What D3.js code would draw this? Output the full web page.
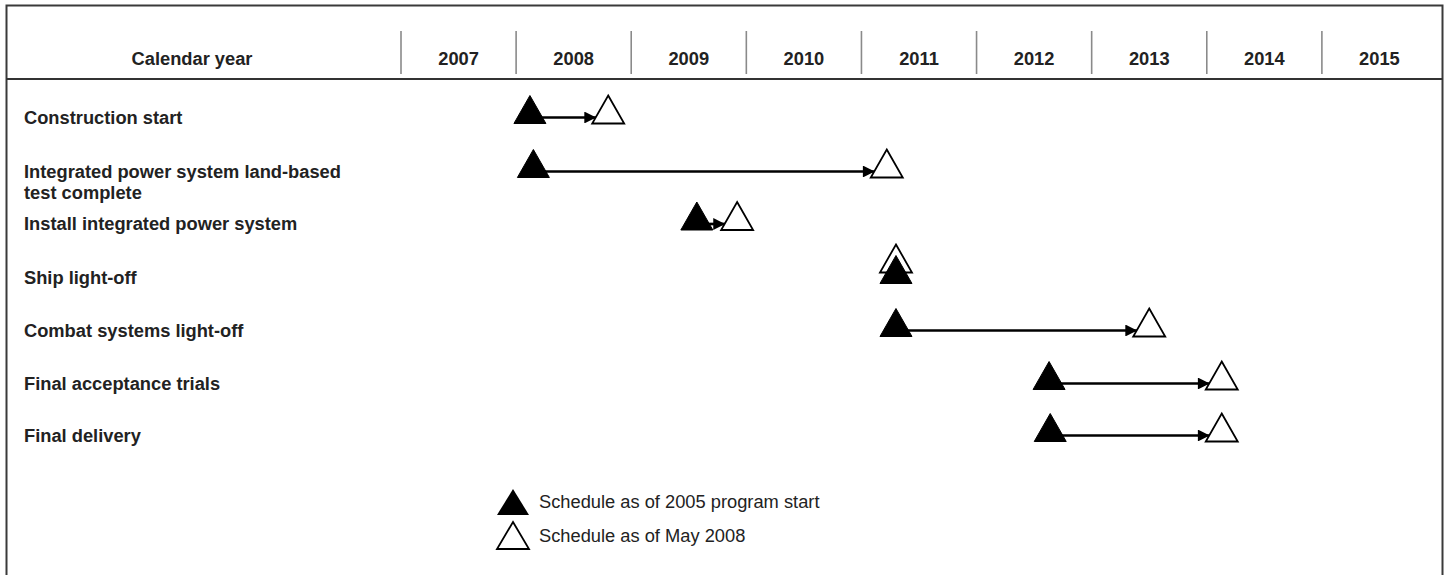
<!DOCTYPE html>
<html><head><meta charset="utf-8">
<script src="https://cdn.jsdelivr.net/npm/d3@7"></script>
<style>body{margin:0;background:#fff}svg{display:block}text{font-family:"Liberation Sans",Arial,Helvetica,sans-serif}</style>
</head><body>
<svg id="c" width="1447" height="575"></svg>
<script>
const years = [2007, 2008, 2009, 2010, 2011, 2012, 2013, 2014, 2015];
const milestones = [
  ["Construction start"],
  ["Integrated power system land-based", "test complete"],
  ["Install integrated power system"],
  ["Ship light-off"],
  ["Combat systems light-off"],
  ["Final acceptance trials"],
  ["Final delivery"]
];
const original2005 = [2008.12, 2008.15, 2009.57, 2011.3, 2011.3, 2012.63, 2012.64];
const may2008 = [2008.8, 2011.22, 2009.92, 2011.3, 2013.5, 2014.13, 2014.13];
const legendLabels = ["Schedule as of 2005 program start", "Schedule as of May 2008"];

const FS = 18.3;
const svg = d3.select("#c");
const x = d3.scaleLinear().domain([2007, 2016]).range([401, 1437]);
const rowBase = [123.5, 177.5, 230, 283.5, 336.5, 389.5, 441.5];

// outer border
svg.append("rect").attr("x", 6.5).attr("y", 5.5).attr("width", 1436).attr("height", 600)
  .attr("fill", "none").attr("stroke", "#3a3a3a").attr("stroke-width", 2);
// header separator
svg.append("line").attr("x1", 6).attr("x2", 1443).attr("y1", 79).attr("y2", 79)
  .attr("stroke", "#333").attr("stroke-width", 2.2);
// dividers
svg.selectAll("line.div").data(years).join("line").attr("class", "div")
  .attr("x1", d => x(d)).attr("x2", d => x(d)).attr("y1", 31).attr("y2", 74)
  .attr("stroke", "#8a8a8a").attr("stroke-width", 1.6);
// header texts
svg.append("text").attr("x", 192).attr("y", 65).attr("text-anchor", "middle")
  .attr("font-weight", "bold").attr("font-size", FS).attr("fill", "#222").text("Calendar year");
svg.selectAll("text.yr").data(years).join("text").attr("class", "yr")
  .attr("x", d => x(d + 0.5)).attr("y", 65).attr("text-anchor", "middle")
  .attr("font-weight", "bold").attr("font-size", FS).attr("fill", "#222").text(d => d);

// row labels
milestones.forEach((lines, i) => {
  const t = svg.append("text").attr("x", 24).attr("font-weight", "bold").attr("font-size", FS).attr("fill", "#222");
  lines.forEach((l, j) => {
    t.append("tspan").attr("x", 24).attr("y", rowBase[i] + j * 21).text(l);
  });
});

function triPath(cx, baseY, w, h) {
  return `M${cx},${baseY - h}L${cx + w / 2},${baseY}L${cx - w / 2},${baseY}Z`;
}
svg.append("defs").append("marker").attr("id", "ah").attr("viewBox", "0 0 10 10")
  .attr("refX", 10).attr("refY", 5).attr("markerWidth", 5).attr("markerHeight", 4.4)
  .attr("markerUnits", "strokeWidth").attr("orient", "auto")
  .append("path").attr("d", "M0,0L10,5L0,10Z").attr("fill", "#000");

const TW = 32, TH = 28;
milestones.forEach((m, i) => {
  const base = rowBase[i];
  const x0 = x(original2005[i]), x1 = x(may2008[i]);
  if (x1 - x0 > 5) {
    svg.append("line").attr("x1", x0 + 8).attr("x2", x1 - 12).attr("y1", base - 6).attr("y2", base - 6)
      .attr("stroke", "#000").attr("stroke-width", 2.7).attr("marker-end", "url(#ah)");
  }
  const openBase = Math.abs(x1 - x0) < 5 ? base - 11 : base;
  svg.append("path").attr("d", triPath(x1, openBase, TW, TH)).attr("fill", "#fff").attr("stroke", "#000").attr("stroke-width", 1.8);
  svg.append("path").attr("d", triPath(x0, base, TW, TH)).attr("fill", "#000").attr("stroke", "#000").attr("stroke-width", 1);
});

// legend
svg.append("path").attr("d", triPath(513, 515, TW, TH - 2)).attr("fill", "#000");
svg.append("path").attr("d", triPath(513, 549, TW, TH - 1)).attr("fill", "#fff").attr("stroke", "#000").attr("stroke-width", 1.8);
legendLabels.forEach((l, i) => {
  svg.append("text").attr("x", 539).attr("y", 508 + i * 33.5).attr("font-size", FS).attr("fill", "#222").text(l);
});
</script>
</body></html>
